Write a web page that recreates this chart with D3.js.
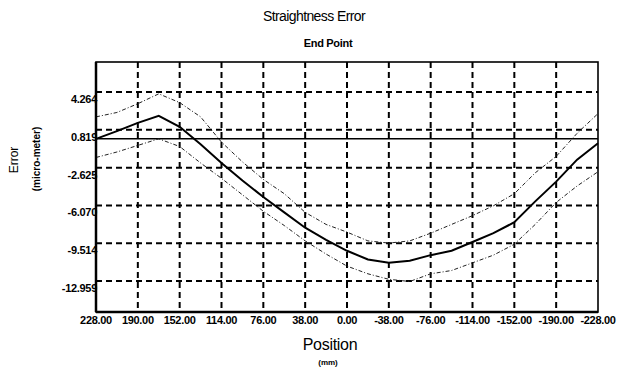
<!DOCTYPE html>
<html><head><meta charset="utf-8">
<script src="https://cdn.jsdelivr.net/npm/d3@7"></script>
<style>
html,body{margin:0;padding:0;background:#fff;}
svg{display:block;font-family:"Liberation Sans",Arial,sans-serif;}
</style></head>
<body><svg id="c" width="620" height="382"></svg>
<script>
// ---- data ----
const positions = [228,209,190,171,152,133,114,95,76,57,38,19,0,-19,-38,-57,-76,-95,-114,-133,-152,-171,-190,-209,-228];
const errorMain = [0.0,0.7,1.45,2.1,1.1,-0.5,-2.2,-3.8,-5.3,-6.7,-8.1,-9.2,-10.2,-11.0,-11.3,-11.1,-10.6,-10.2,-9.4,-8.6,-7.6,-5.7,-3.9,-1.9,-0.4];
const errorUpper = [2.0,2.4,3.2,4.1,3.3,2.0,-0.3,-2.1,-3.7,-5.0,-6.7,-7.8,-8.5,-9.3,-9.5,-9.3,-8.6,-7.8,-7.0,-6.1,-5.0,-3.1,-1.6,0.5,2.3];
const errorLower = [-1.7,-1.2,-0.6,0.0,-0.7,-2.2,-3.6,-5.1,-6.6,-7.9,-9.3,-10.5,-11.6,-12.3,-12.8,-13.0,-12.3,-12.0,-11.3,-10.6,-9.6,-7.8,-5.8,-4.3,-3.0];
const xTicks = [228,190,152,114,76,38,0,-38,-76,-114,-152,-190,-228];
const xTickLabels = ["228.00","190.00","152.00","114.00","76.00","38.00","0.00","-38.00","-76.00","-114.00","-152.00","-190.00","-228.00"];
const yTicks = [4.264,0.819,-2.625,-6.070,-9.514,-12.959];
const yTickLabels = ["4.264","0.819","-2.625","-6.070","-9.514","-12.959"];
const yDomain = [-15.78, 7.0];

const svg = d3.select("#c");
const L=96, R=598, T=62, B=312;
const x = d3.scaleLinear().domain([228,-228]).range([L,R]);
const y = d3.scaleLinear().domain(yDomain).range([B,T]);

// grid
const g = svg.append("g");
g.selectAll(".hg").data(yTicks).enter().append("line")
  .attr("x1",L).attr("x2",R).attr("y1",d=>y(d)).attr("y2",d=>y(d))
  .attr("stroke","#000").attr("stroke-width",2).attr("stroke-dasharray","6,4");
g.selectAll(".vg").data(xTicks.slice(1,-1)).enter().append("line")
  .attr("y1",T).attr("y2",B).attr("x1",d=>x(d)).attr("x2",d=>x(d))
  .attr("stroke","#000").attr("stroke-width",2).attr("stroke-dasharray","6,4");

// zero line
svg.append("line").attr("x1",L).attr("x2",R).attr("y1",y(0)).attr("y2",y(0))
  .attr("stroke","#000").attr("stroke-width",1.6);

// curves
const line = arr => d3.line().x((d,i)=>x(positions[i])).y(d=>y(d))(arr);
svg.append("path").attr("d",line(errorUpper)).attr("fill","none")
  .attr("stroke","#222").attr("stroke-width",1).attr("stroke-dasharray","4,2,1,2");
svg.append("path").attr("d",line(errorLower)).attr("fill","none")
  .attr("stroke","#222").attr("stroke-width",1).attr("stroke-dasharray","4,2,1,2");
svg.append("path").attr("d",line(errorMain)).attr("fill","none")
  .attr("stroke","#000").attr("stroke-width",2);

// frame
svg.append("rect").attr("x",L).attr("y",T).attr("width",R-L).attr("height",B-T)
  .attr("fill","none").attr("stroke","#000").attr("stroke-width",1.6);
svg.append("line").attr("x1",L).attr("x2",L).attr("y1",T).attr("y2",B).attr("stroke","#000").attr("stroke-width",2.5);
svg.append("line").attr("x1",L).attr("x2",R).attr("y1",B).attr("y2",B).attr("stroke","#000").attr("stroke-width",2.5);

// tick labels
svg.selectAll(".xl").data(xTicks).enter().append("text")
  .attr("x",d=>x(d)).attr("y",B+12).attr("text-anchor","middle")
  .attr("font-size","11px").attr("font-weight","bold").attr("letter-spacing","-0.3")
  .text((d,i)=>xTickLabels[i]);
svg.selectAll(".yl").data(yTicks).enter().append("text")
  .attr("x",L+1).attr("y",d=>y(d)+11).attr("text-anchor","end")
  .attr("font-size","11px").attr("font-weight","bold").attr("letter-spacing","-0.3")
  .text((d,i)=>yTickLabels[i]);

// titles
svg.append("text").attr("x",314).attr("y",21).attr("text-anchor","middle")
  .attr("font-size","14px").attr("letter-spacing","-0.6").text("Straightness Error");
svg.append("text").attr("x",328).attr("y",47).attr("text-anchor","middle")
  .attr("font-size","11px").attr("font-weight","bold").attr("letter-spacing","-0.3").text("End Point");
svg.append("text").attr("x",330).attr("y",350).attr("text-anchor","middle")
  .attr("font-size","16px").attr("letter-spacing","-0.3").text("Position");
svg.append("text").attr("x",328).attr("y",365).attr("text-anchor","middle")
  .attr("font-size","8px").attr("font-weight","bold").text("(mm)");
svg.append("text").attr("transform","translate(18,160) rotate(-90)").attr("text-anchor","middle")
  .attr("font-size","12px").text("Error");
svg.append("text").attr("transform","translate(40,159) rotate(-90)").attr("text-anchor","middle")
  .attr("font-size","10px").attr("font-weight","bold").text("(micro-meter)");
</script></body></html>
